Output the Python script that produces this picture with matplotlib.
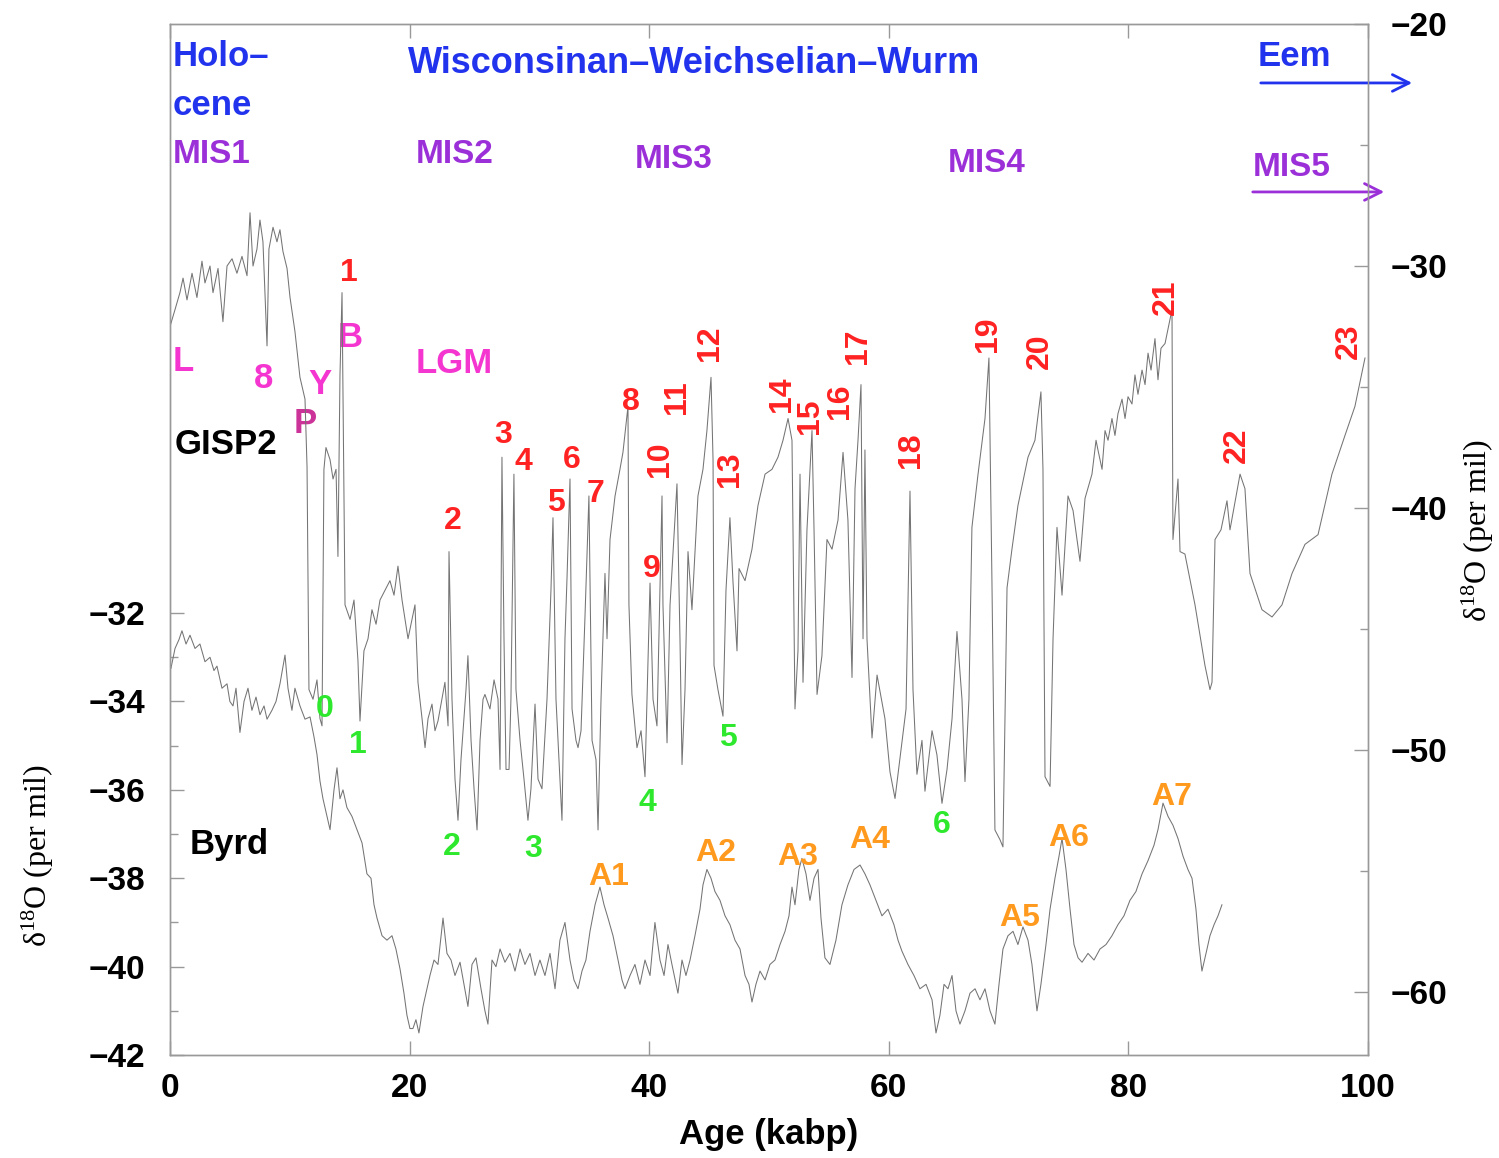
import matplotlib.pyplot as plt

plt.rcParams['font.family'] = ['Liberation Sans', 'DejaVu Sans']
plt.rcParams['font.weight'] = 'bold'
plt.rcParams['axes.labelweight'] = 'bold'
plt.rcParams['mathtext.default'] = 'regular'

# GISP2 (Greenland) d18O, plotted against the right axis
gisp2_age = [
    0.0, 0.42, 0.83, 1.09, 1.42, 1.84, 2.25, 2.67, 2.92, 3.34, 3.59, 4.01, 4.42, 4.76,
    5.18, 5.59, 6.01, 6.43, 6.68, 6.93, 7.26, 7.51, 7.76, 8.10, 8.26, 8.60, 8.93, 9.18,
    9.43, 9.77, 10.02, 10.43, 10.85, 11.27, 11.44, 11.60, 11.94, 12.27, 12.52, 12.69,
    12.77, 12.85, 13.02, 13.36, 13.61, 13.86, 14.02, 14.19, 14.36, 14.52, 14.61, 15.03,
    15.36, 15.69, 15.86, 16.19, 16.53, 16.86, 17.20, 17.53, 17.95, 18.36, 18.70, 19.03,
    19.37, 19.87, 20.20, 20.45, 20.70, 21.04, 21.29, 21.54, 21.87, 22.12, 22.37, 22.70,
    22.95, 23.21, 23.29, 23.54, 23.79, 24.04, 24.29, 24.54, 24.71, 24.87, 25.13, 25.38,
    25.63, 25.88, 26.13, 26.29, 26.71, 27.05, 27.38, 27.55, 27.71, 27.88, 28.05, 28.30,
    28.46, 28.71, 28.88, 29.22, 29.55, 29.88, 30.13, 30.47, 30.72, 31.05, 31.47, 31.80,
    31.97, 32.22, 32.72, 32.97, 33.14, 33.39, 33.56, 33.89, 34.06, 34.31, 34.64, 34.97,
    35.23, 35.56, 35.73, 35.98, 36.31, 36.48, 36.73, 37.15, 37.56, 37.81, 38.23, 38.31,
    38.56, 38.98, 39.32, 39.65, 40.07, 40.32, 40.65, 41.07, 41.15, 41.49, 41.74, 42.32,
    42.57, 42.74, 42.99, 43.24, 43.57, 44.07, 44.49, 44.82, 45.16, 45.33, 45.41, 45.74,
    46.16, 46.41, 46.74, 46.99, 47.33, 47.50, 48.00, 48.58, 49.08, 49.67, 50.25, 50.75,
    51.17, 51.59, 51.92, 52.17, 52.42, 52.59, 52.84, 53.17, 53.59, 53.76, 54.01, 54.42,
    54.84, 55.26, 55.76, 56.18, 56.59, 56.93, 57.18, 57.43, 57.68, 57.85, 58.01, 58.18,
    58.60, 59.02, 59.68, 60.10, 60.52, 61.02, 61.44, 61.77, 62.02, 62.35, 62.77, 63.02,
    63.61, 64.02, 64.44, 64.86, 65.28, 65.69, 66.11, 66.36, 66.69, 66.94, 67.45, 68.03,
    68.36, 68.61, 68.86, 69.28, 69.53, 69.87, 70.28, 70.78, 71.62, 72.20, 72.70, 72.87,
    73.04, 73.46, 73.71, 74.04, 74.46, 74.96, 75.38, 75.96, 76.38, 76.96, 77.30, 77.46,
    77.80, 78.05, 78.30, 78.63, 78.88, 79.13, 79.47, 79.72, 79.97, 80.30, 80.55, 80.80,
    81.14, 81.39, 81.64, 81.89, 82.22, 82.47, 82.72, 83.06, 83.31, 83.64, 83.72, 84.14,
    84.31, 84.72, 85.56, 86.39, 86.81, 86.98, 87.23, 87.73, 88.23, 88.48, 89.32, 89.73,
    90.15, 91.15, 91.99, 92.82, 93.66, 94.74, 95.83, 96.99, 98.08, 98.91, 99.75,
]
gisp2_d18o = [
    -32.5, -31.8, -31.1, -30.5, -31.4, -30.3, -31.3, -29.8, -30.7, -30.0, -31.1, -30.1, -32.3, -30.0,
    -29.7, -30.3, -29.6, -30.4, -27.8, -30.0, -29.3, -28.1, -29.0, -33.3, -29.3, -28.4, -29.0, -28.5,
    -29.4, -30.1, -31.3, -32.7, -34.6, -35.5, -38.3, -47.5, -47.9, -47.1, -48.7, -49.0,
    -43.8, -38.4, -37.5, -38.0, -38.8, -38.4, -42.0, -34.5, -31.1, -39.6, -44.0, -44.6,
    -43.8, -46.3, -48.8, -45.9, -45.4, -44.2, -44.8, -43.8, -43.4, -43.0, -43.6, -42.4,
    -43.8, -45.4, -44.6, -44.0, -47.2, -48.7, -49.9, -48.7, -48.1, -49.2, -48.8, -47.9,
    -47.2, -49.0, -41.8, -47.9, -51.2, -52.9, -50.4, -48.7, -47.5, -46.1, -49.6, -51.6,
    -53.3, -49.6, -47.9, -47.7, -48.3, -47.1, -47.9, -50.8, -37.9, -45.4, -50.8, -50.8,
    -47.9, -38.6, -47.5, -49.6, -51.2, -52.9, -51.6, -48.1, -51.2, -51.6, -47.9, -43.4,
    -40.4, -47.9, -52.9, -45.4, -42.9, -38.8, -48.3, -49.6, -49.9, -49.2, -44.5, -39.5,
    -49.6, -50.4, -53.3, -47.9, -42.7, -45.4, -41.3, -39.5, -38.4, -37.7, -35.8, -44.0,
    -47.7, -49.9, -49.2, -51.1, -43.1, -47.9, -49.0, -39.5, -44.0, -49.7, -44.0, -39.0,
    -45.4, -50.6, -47.5, -41.8, -44.2, -39.5, -38.4, -36.8, -34.6, -38.0, -46.5, -47.5,
    -48.6, -43.4, -40.4, -43.0, -45.9, -42.5, -43.0, -41.7, -39.9, -38.6, -38.4, -37.9,
    -37.2, -36.3, -37.2, -48.3, -45.9, -38.6, -47.2, -40.9, -36.8, -40.9, -47.7, -46.1,
    -41.3, -41.7, -40.5, -37.7, -40.5, -47.0, -39.2, -37.2, -34.9, -45.4, -37.6, -45.4,
    -49.5, -46.9, -48.7, -50.9, -52.0, -50.0, -48.3, -39.3, -47.5, -51.0, -49.6, -51.7,
    -49.2, -50.2, -52.2, -50.8, -48.7, -45.1, -47.9, -51.3, -47.9, -40.8, -38.6, -36.3,
    -33.8, -43.0, -53.3, -53.7, -54.0, -43.3, -41.7, -39.9, -37.9, -37.2, -35.2, -38.4,
    -51.1, -51.5, -45.4, -40.8, -43.6, -39.5, -40.1, -42.2, -39.6, -38.6, -37.2, -37.6,
    -38.4, -36.8, -37.2, -36.3, -37.0, -36.1, -35.5, -36.3, -35.4, -35.7, -34.5, -35.3,
    -34.3, -34.9, -33.6, -34.3, -33.0, -34.7, -33.4, -33.2, -32.6, -31.8, -41.3, -38.8,
    -41.8, -41.9, -44.0, -46.5, -47.5, -47.2, -41.3, -40.9, -39.7, -40.9, -38.6, -39.2,
    -42.7, -44.2, -44.5, -44.0, -42.7, -41.5, -41.1, -38.6, -37.0, -35.8, -33.8,
]

# Byrd (Antarctica) d18O, plotted against the left axis
byrd_age = [
    0.08, 0.42, 0.75, 1.0, 1.34, 1.67, 2.09, 2.5, 2.92, 3.34, 3.67, 3.92, 4.34, 4.76,
    5.0, 5.26, 5.51, 5.84, 6.18, 6.51, 6.84, 7.18, 7.51, 7.85, 8.10, 8.51, 8.85, 9.18,
    9.60, 9.85, 10.18, 10.43, 10.85, 11.27, 11.69, 12.02, 12.27, 12.52, 12.77, 13.11,
    13.36, 13.69, 13.94, 14.19, 14.44, 14.77, 15.19, 15.61, 16.03, 16.44, 16.78, 17.03,
    17.28, 17.70, 18.11, 18.53, 18.86, 19.20, 19.53, 19.78, 20.03, 20.28, 20.53, 20.78,
    21.12, 21.45, 21.70, 22.04, 22.37, 22.79, 23.12, 23.46, 23.79, 24.21, 24.54, 24.87,
    25.21, 25.54, 25.96, 26.29, 26.54, 26.88, 27.21, 27.55, 27.96, 28.38, 28.80, 29.22,
    29.63, 30.05, 30.47, 30.88, 31.30, 31.72, 32.14, 32.55, 32.97, 33.39, 33.72, 34.06,
    34.39, 34.72, 35.06, 35.48, 35.89, 36.23, 36.56, 36.98, 37.40, 37.73, 37.98, 38.40,
    38.81, 39.23, 39.65, 40.07, 40.48, 40.90, 41.24, 41.57, 41.90, 42.40, 42.74, 43.07,
    43.41, 43.82, 44.24, 44.49, 44.82, 45.16, 45.49, 45.91, 46.33, 46.74, 47.16, 47.58,
    48.00, 48.33, 48.58, 48.91, 49.25, 49.67, 50.08, 50.50, 50.92, 51.34, 51.67, 51.92,
    52.17, 52.50, 52.75, 53.09, 53.42, 53.76, 54.09, 54.34, 54.67, 55.09, 55.59, 56.09,
    56.59, 57.10, 57.60, 58.01, 58.43, 58.93, 59.43, 59.93, 60.43, 60.77, 61.10, 61.60,
    62.10, 62.60, 63.11, 63.61, 63.94, 64.27, 64.61, 64.94, 65.28, 65.61, 65.94, 66.36,
    66.78, 67.20, 67.61, 68.03, 68.45, 68.86, 69.20, 69.53, 69.95, 70.37, 70.78, 71.20,
    71.62, 71.95, 72.37, 72.70, 73.12, 73.46, 73.87, 74.21, 74.46, 74.79, 75.13, 75.46,
    75.80, 76.13, 76.63, 77.13, 77.63, 78.13, 78.63, 79.13, 79.63, 80.13, 80.63, 81.14,
    81.64, 82.14, 82.47, 82.89, 83.31, 83.72, 84.14, 84.56, 84.97, 85.31, 85.64, 85.89,
    86.14, 86.48, 86.81, 87.15, 87.48, 87.81,
]
byrd_d18o = [
    -33.25, -32.8, -32.6, -32.4, -32.7, -32.5, -32.8, -32.7, -33.1, -33.0, -33.3, -33.2, -33.7, -33.6,
    -34.0, -34.1, -33.7, -34.7, -34.0, -33.7, -34.2, -33.9, -34.3, -34.1, -34.4, -34.2, -34.0, -33.6,
    -32.95, -33.7, -34.2, -33.7, -34.1, -34.4, -34.35, -34.8, -35.2, -35.8, -36.2, -36.6,
    -36.9, -36.0, -35.5, -36.2, -36.0, -36.4, -36.6, -36.9, -37.2, -37.9, -38.0, -38.6,
    -38.9, -39.3, -39.4, -39.3, -39.6, -40.05, -40.6, -41.1, -41.4, -41.4, -41.2, -41.5,
    -40.9, -40.5, -40.2, -39.85, -39.95, -38.9, -39.7, -39.85, -40.2, -39.9, -40.4, -40.9,
    -39.95, -39.8, -40.5, -41.0, -41.3, -39.85, -40.0, -39.6, -39.9, -39.7, -40.1, -39.6,
    -39.95, -39.7, -40.2, -39.85, -40.2, -39.7, -40.5, -39.4, -39.0, -39.85, -40.3, -40.5,
    -40.1, -39.85, -39.2, -38.6, -38.2, -38.6, -38.9, -39.3, -39.85, -40.3, -40.5, -40.2,
    -39.95, -40.4, -39.85, -40.2, -39.0, -39.85, -40.2, -39.5, -39.95, -40.6, -39.85, -40.2,
    -39.85, -39.3, -38.7, -38.15, -37.8, -38.0, -38.3, -38.5, -38.85, -39.05, -39.4, -39.6,
    -40.2, -40.4, -40.8, -40.4, -40.1, -40.3, -39.95, -39.85, -39.5, -39.2, -38.85, -38.2,
    -38.6, -37.8, -37.55, -37.9, -38.5, -38.0, -37.8, -38.9, -39.8, -39.95, -39.4, -38.6,
    -38.15, -37.8, -37.7, -37.9, -38.15, -38.5, -38.85, -38.7, -39.05, -39.4, -39.65, -39.95,
    -40.2, -40.5, -40.4, -40.75, -41.5, -41.1, -40.4, -40.5, -40.2, -41.0, -41.3, -41.0,
    -40.6, -40.5, -40.75, -40.5, -41.0, -41.3, -40.4, -39.6, -39.3, -39.2, -39.5, -39.1,
    -39.4, -39.95, -41.0, -40.4, -39.5, -38.7, -38.0, -37.5, -37.1, -37.8, -38.7, -39.5,
    -39.8, -39.9, -39.7, -39.85, -39.6, -39.5, -39.3, -39.05, -38.85, -38.5, -38.3, -37.9,
    -37.6, -37.25, -36.9, -36.3, -36.6, -36.8, -37.1, -37.5, -37.8, -38.0, -38.7, -39.5,
    -40.1, -39.7, -39.3, -39.05, -38.85, -38.6,
]

# Greenland interstadials (red) and stadial minima (green), GISP2 axis
red_labels = ['1', '2', '3', '4', '5', '6', '7', '8', '9', '10', '11', '12',
              '13', '14', '15', '16', '17', '18', '19', '20', '21', '22', '23']
red_age = [14.94, 23.62, 27.80, 29.47, 32.22, 33.56, 35.48, 38.48, 40.23, 40.90, 42.32, 45.08,
           46.74, 51.10, 53.45, 55.93, 57.43, 61.85, 68.28, 72.62, 83.14, 89.07, 98.41]
red_val = [-30.3, -40.55, -37.0, -38.1, -39.8, -38.0, -39.4, -35.6, -42.5, -38.0, -35.4, -33.2,
           -38.4, -35.3, -36.2, -35.6, -33.3, -37.6, -32.8, -33.5, -31.3, -37.4, -33.1]

green_labels = ['0', '1', '2', '3', '4', '5', '6']
green_age = [12.94, 15.69, 23.54, 30.30, 39.82, 46.58, 64.44]
green_val = [-48.3, -49.8, -54.0, -54.1, -52.2, -49.5, -53.1]

# Antarctic warm events, Byrd axis
orange_labels = ['A1', 'A2', 'A3', 'A4', 'A5', 'A6', 'A7']
orange_age = [36.64, 45.58, 52.42, 58.43, 70.95, 75.04, 83.64]
orange_val = [-37.97, -37.42, -37.51, -37.13, -38.89, -37.08, -36.16]

BLUE = '#2233ee'
PURPLE = '#9b30d9'
MAGENTA = '#f535d0'
RED = '#ff2222'
GREEN = '#2ee82e'
ORANGE = '#ff9a1f'
LINE = '#747474'
FRAME = '#999999'

fig = plt.figure(figsize=(14.99, 11.58), dpi=100)
ax = fig.add_axes([0.1134, 0.0889, 0.7992, 0.8904])
ax2 = ax.twinx()

ax.plot(byrd_age, byrd_d18o, color=LINE, lw=0.75)
ax2.plot(gisp2_age, gisp2_d18o, color=LINE, lw=0.75)

ax.set_xlim(0, 100)
ax.set_ylim(-42, -18.67)
ax2.set_ylim(-62.6, -20)

ax.set_xticks(range(0, 101, 20))
ax.set_yticks(range(-42, -31, 2))
ax.set_yticks(range(-41, -32, 2), minor=True)
ax2.set_yticks(range(-60, -19, 10))
ax2.set_yticks(range(-55, -24, 10), minor=True)

for a in (ax, ax2):
    for s in a.spines.values():
        s.set_color(FRAME)
        s.set_linewidth(1.0)

ax.tick_params(axis='x', which='both', direction='in', top=True, bottom=True,
               length=10, width=1, color=FRAME, labelsize=24, pad=13)
ax.tick_params(axis='y', which='major', direction='in', left=True, right=False,
               length=10, width=1, color=FRAME, labelsize=24, pad=18)
ax.tick_params(axis='y', which='minor', direction='in', left=True, right=False,
               length=6, width=1, color=FRAME)
ax2.tick_params(axis='y', which='major', direction='in', right=True, left=False,
                length=10, width=1, color=FRAME, labelsize=24, pad=16)
ax2.tick_params(axis='y', which='minor', direction='in', right=True, left=False,
                length=6, width=1, color=FRAME)

ax.set_xlabel('Age (kabp)', fontsize=25, labelpad=10)
ylab = r'$\delta^{18}$O (per mil)'
ax.set_ylabel(ylab, fontsize=23, fontweight='normal', family='Liberation Serif')
ax.yaxis.set_label_coords(-0.095, 0.194)
ax2.set_ylabel(ylab, fontsize=23, fontweight='normal', family='Liberation Serif')
ax2.yaxis.set_label_coords(1.077, 0.509)

# period and stage headers
tA = ax.transAxes
ax.text(0.0025, 0.968, 'Holo–', color=BLUE, fontsize=25, va='center', transform=tA)
ax.text(0.0025, 0.921, 'cene', color=BLUE, fontsize=25, va='center', transform=tA)
ax.text(0.1987, 0.9615, 'Wisconsinan–Weichselian–Wurm', color=BLUE, fontsize=26,
        va='center', transform=tA)
ax.text(0.9082, 0.968, 'Eem', color=BLUE, fontsize=25, va='center', transform=tA)
ax.annotate('', xy=(1.0392, 0.9428), xytext=(0.9082, 0.9428), xycoords=tA,
            textcoords=tA, annotation_clip=False,
            arrowprops=dict(arrowstyle='->', color=BLUE, lw=2, mutation_scale=30))

for name, fx, fy in [('MIS1', 0.0025, 0.8735), ('MIS2', 0.2053, 0.8735),
                     ('MIS3', 0.3881, 0.8690), ('MIS4', 0.6494, 0.8650),
                     ('MIS5', 0.9040, 0.8610)]:
    ax.text(fx, fy, name, color=PURPLE, fontsize=24, va='center', transform=tA)
ax.annotate('', xy=(1.0159, 0.8371), xytext=(0.9015, 0.8371), xycoords=tA,
            textcoords=tA, annotation_clip=False,
            arrowprops=dict(arrowstyle='->', color=PURPLE, lw=2, mutation_scale=30))

# deglacial events
ax.text(0.0025, 0.6725, 'L', color=MAGENTA, fontsize=25, va='center', transform=tA)
ax.text(0.0785, 0.6560, '8', color=MAGENTA, fontsize=25, ha='center', va='center', transform=tA)
ax.text(0.1252, 0.6500, 'Y', color=MAGENTA, fontsize=25, ha='center', va='center', transform=tA)
ax.text(0.1127, 0.6125, 'P', color='#cc3399', fontsize=25, ha='center', va='center', transform=tA)
ax.text(0.1503, 0.6955, 'B', color=MAGENTA, fontsize=25, ha='center', va='center', transform=tA)
ax.text(0.2053, 0.6705, 'LGM', color=MAGENTA, fontsize=25, va='center', transform=tA)

ax.text(0.0042, 0.5920, 'GISP2', color='black', fontsize=25, va='center', transform=tA)
ax.text(0.0167, 0.2040, 'Byrd', color='black', fontsize=25, va='center', transform=tA)

for lab, x, y in zip(red_labels, red_age, red_val):
    rot = 90 if len(lab) > 1 else 0
    ax2.text(x, y, lab, color=RED, fontsize=23, rotation=rot, ha='center', va='center')
for lab, x, y in zip(green_labels, green_age, green_val):
    ax2.text(x, y, lab, color=GREEN, fontsize=23, ha='center', va='center')
for lab, x, y in zip(orange_labels, orange_age, orange_val):
    ax.text(x, y, lab, color=ORANGE, fontsize=23, ha='center', va='center')

fig.savefig('out.png', dpi=100)
